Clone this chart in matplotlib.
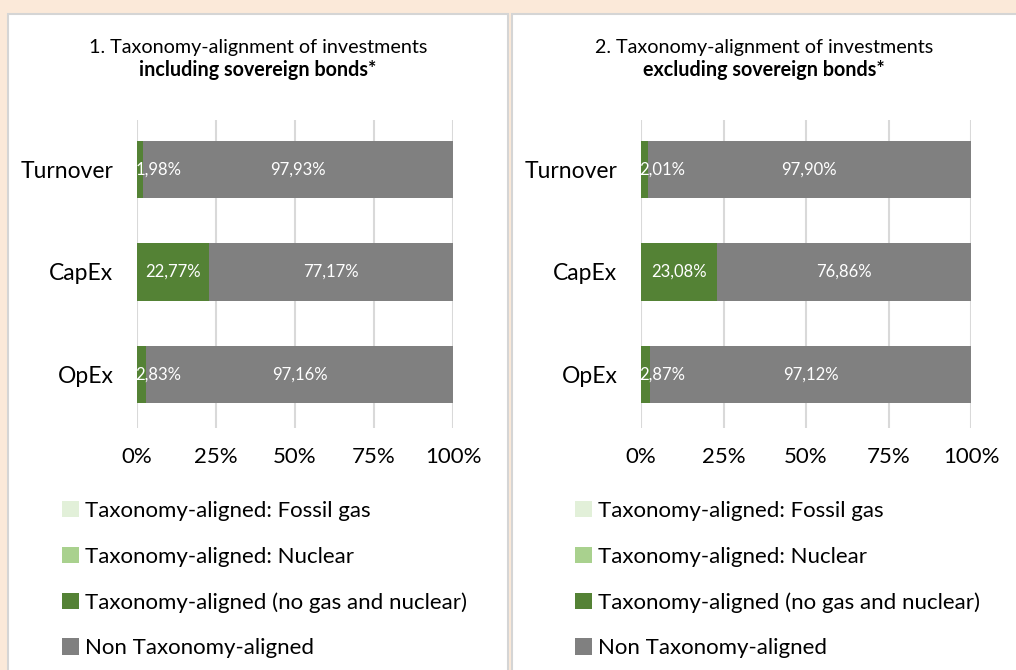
import matplotlib.pyplot as plt
from matplotlib.patches import Rectangle, Patch

plt.rcParams['font.family'] = ['Lato', 'DejaVu Sans']

categories = ['Turnover', 'CapEx', 'OpEx']
series_names = ['Taxonomy-aligned: Fossil gas',
                'Taxonomy-aligned: Nuclear',
                'Taxonomy-aligned (no gas and nuclear)',
                'Non Taxonomy-aligned']
colors = ['#E2F0D9', '#A9D18E', '#548235', '#808080']

# panel 1: including sovereign bonds
incl_gas = [0.0, 0.0, 0.0]
incl_nuclear = [0.0, 0.0, 0.0]
incl_aligned = [1.98, 22.77, 2.83]
incl_non = [97.93, 77.17, 97.16]

# panel 2: excluding sovereign bonds
excl_gas = [0.0, 0.0, 0.0]
excl_nuclear = [0.0, 0.0, 0.0]
excl_aligned = [2.01, 23.08, 2.87]
excl_non = [97.90, 76.86, 97.12]

titles = ['1. Taxonomy-alignment of investments', '2. Taxonomy-alignment of investments']
titles_bold = ['including sovereign bonds*', 'excluding sovereign bonds*']

W, H = 1016, 670
fig = plt.figure(figsize=(W / 100, H / 100), dpi=100)
fig.patch.set_facecolor('#FBE9D9')


def px(x0, y0, x1, y1):
    # pixel box (top-left origin) -> figure fraction rect
    return [x0 / W, 1 - y1 / H, (x1 - x0) / W, (y1 - y0) / H]


# white panels
for (x0, x1) in [(8, 508), (512, 1020)]:
    fig.patches.append(Rectangle((x0 / W, -0.01), (x1 - x0) / W, 1 - 14 / H + 0.01,
                                 transform=fig.transFigure, facecolor='white',
                                 edgecolor='#D5D5D5', linewidth=1.5, zorder=-5))


def fmt(v):
    return f'{v:.2f}%'.replace('.', ',')


panels = [
    (px(137, 120, 453, 428), [incl_gas, incl_nuclear, incl_aligned, incl_non], 258, 62),
    (px(641, 120, 971, 428), [excl_gas, excl_nuclear, excl_aligned, excl_non], 764, 575),
]

for i, (rect, data, tcx, legx) in enumerate(panels):
    ax = fig.add_axes(rect)
    ax.set_zorder(2)
    ypos = [2, 1, 0]
    left = [0.0, 0.0, 0.0]
    for s, vals in enumerate(data):
        ax.barh(ypos, vals, left=left, height=0.56, color=colors[s], zorder=2)
        if s >= 2:
            for y, l, v in zip(ypos, left, vals):
                if v < 8:
                    ax.text(l - 0.6, y, fmt(v), ha='left', va='center',
                            color='white', fontsize=12, zorder=3)
                else:
                    ax.text(l + v / 2, y, fmt(v), ha='center', va='center',
                            color='white', fontsize=12, zorder=3)
        left = [a + b for a, b in zip(left, vals)]
    ax.set_xlim(0, 100)
    ax.set_ylim(-0.52, 2.48)
    ax.set_xticks([0, 25, 50, 75, 100])
    ax.set_xticklabels(['0%', '25%', '50%', '75%', '100%'], fontsize=16)
    ax.set_yticks(ypos)
    ax.set_yticklabels(categories, fontsize=16.5)
    ax.tick_params(length=0, pad=14, axis='x')
    ax.tick_params(length=0, pad=17, axis='y')
    ax.grid(axis='x', color='#D9D9D9', linewidth=1.5, zorder=0)
    for sp in ax.spines.values():
        sp.set_visible(False)
    ax.set_facecolor('none')

    fig.text(tcx / W, 1 - 47 / H, titles[i], ha='center', va='center', fontsize=14.2)
    fig.text(tcx / W, 1 - 70 / H, titles_bold[i], ha='center', va='center',
             fontsize=14.2, fontweight='bold')

    handles = [Patch(facecolor=c, edgecolor='none') for c in colors]
    fig.legend(handles, series_names, loc='upper left',
               bbox_to_anchor=(legx / W - 0.02, 1 - 481 / H),
               frameon=False, fontsize=16, handlelength=0.8, handleheight=0.75,
               handletextpad=0.25, labelspacing=1.15)

fig.savefig('out.png', dpi=100, facecolor=fig.get_facecolor())
